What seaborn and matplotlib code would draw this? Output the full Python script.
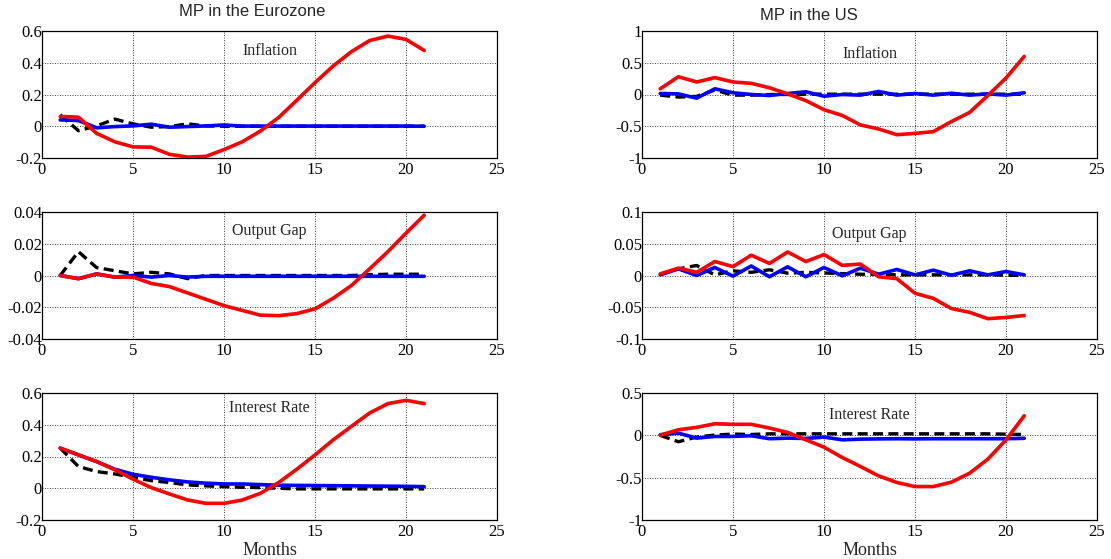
import numpy as np
import pandas as pd
import matplotlib
matplotlib.use("Agg")
import matplotlib.pyplot as plt
import seaborn as sns

months = list(range(1, 22))

# Eurozone - Inflation
ez_inf_red = [0.062, 0.057, -0.045, -0.098, -0.13, -0.132, -0.177, -0.194, -0.19, -0.147, -0.098,
              -0.03, 0.055, 0.164, 0.275, 0.38, 0.47, 0.54, 0.568, 0.547, 0.477]
ez_inf_blue = [0.04, 0.036, -0.01, -0.002, 0.002, 0.013, -0.006, -0.002, 0.002, 0.008, 0.001,
               0.001, 0.001, 0.001, 0.001, 0.001, 0.001, 0.001, 0.001, 0.001, 0.0]
ez_inf_black = [0.072, -0.028, 0.002, 0.045, 0.015, -0.006, -0.002, 0.015, 0.002, 0.0, 0.0,
                0.0, 0.0, 0.0, 0.0, 0.0, 0.0, 0.0, 0.0, 0.0, 0.0]

# US - Inflation
us_inf_red = [0.09, 0.28, 0.197, 0.266, 0.197, 0.176, 0.106, 0.01, -0.096, -0.24, -0.33,
              -0.479, -0.543, -0.633, -0.612, -0.585, -0.426, -0.282, -0.016, 0.26, 0.60]
us_inf_blue = [0.016, 0.01, -0.058, 0.09, 0.027, 0.0, -0.016, 0.016, 0.043, -0.027, 0.0,
               -0.01, 0.048, -0.01, 0.016, -0.01, 0.02, -0.01, 0.01, -0.01, 0.027]
us_inf_black = [-0.01, -0.04, -0.03, 0.07, -0.01, -0.01, 0.0, 0.0, 0.005, 0.005, 0.005,
                0.005, 0.005, 0.005, 0.005, 0.005, 0.005, 0.005, 0.005, 0.005, 0.005]

# Eurozone - Output gap
ez_gap_red = [0.0, -0.002, 0.001, -0.001, -0.001, -0.005, -0.007, -0.011, -0.015, -0.019, -0.022,
              -0.025, -0.0253, -0.024, -0.021, -0.0143, -0.0063, 0.0042, 0.015, 0.0267, 0.038]
ez_gap_blue = [0.0, -0.002, 0.001, -0.001, 0.0, -0.001, 0.0, -0.001, -0.0005, -0.0005, -0.0005,
               -0.0005, -0.0005, -0.0005, -0.0005, -0.0005, -0.0005, -0.0005, -0.0005, -0.0005, -0.0005]
ez_gap_black = [0.0, 0.015, 0.005, 0.003, 0.001, 0.002, 0.001, -0.002, 0.0, 0.0, 0.0,
                0.0, 0.0, 0.0, 0.0, 0.0, 0.0, 0.0005, 0.0008, 0.0008, 0.0008]

# US - Output gap
us_gap_red = [0.0026, 0.0116, 0.005, 0.022, 0.014, 0.032, 0.019, 0.037, 0.022, 0.033, 0.016,
              0.018, -0.002, -0.005, -0.028, -0.036, -0.052, -0.058, -0.068, -0.066, -0.063]
us_gap_blue = [0.001, 0.0105, 0.0, 0.0126, -0.001, 0.015, -0.002, 0.0137, -0.002, 0.0126, -0.0005,
               0.0116, 0.002, 0.0095, 0.001, 0.0084, 0.0005, 0.0074, 0.001, 0.0063, 0.001]
us_gap_black = [0.002, 0.0105, 0.0158, 0.001, 0.0074, 0.005, 0.009, 0.0037, 0.005, 0.004, 0.003,
                0.002, 0.002, 0.001, 0.001, 0.001, 0.001, 0.001, 0.001, 0.0005, 0.0]

# Eurozone - Interest rate
ez_int_red = [0.253, 0.21, 0.168, 0.116, 0.057, 0.004, -0.036, -0.074, -0.095, -0.095, -0.074,
              -0.032, 0.036, 0.12, 0.21, 0.305, 0.39, 0.474, 0.533, 0.554, 0.533]
ez_int_blue = [0.253, 0.21, 0.168, 0.12, 0.088, 0.069, 0.053, 0.04, 0.032, 0.027, 0.027,
               0.023, 0.019, 0.018, 0.017, 0.016, 0.015, 0.014, 0.013, 0.012, 0.01]
ez_int_black = [0.253, 0.137, 0.105, 0.09, 0.069, 0.048, 0.036, 0.021, 0.015, 0.01, 0.006,
                0.004, 0.0, -0.004, -0.004, -0.004, -0.004, -0.004, -0.004, -0.004, -0.004]

# US - Interest rate
us_int_red = [0.003, 0.066, 0.094, 0.137, 0.13, 0.13, 0.086, 0.034, -0.053, -0.14, -0.262,
              -0.368, -0.479, -0.557, -0.605, -0.605, -0.553, -0.447, -0.281, -0.053, 0.231]
us_int_blue = [0.007, 0.026, -0.033, -0.013, -0.013, -0.005, -0.04, -0.033, -0.037, -0.021, -0.053,
               -0.045, -0.042, -0.04, -0.042, -0.04, -0.04, -0.04, -0.04, -0.04, -0.035]
us_int_black = [0.0, -0.076, -0.02, 0.003, 0.015, 0.01, 0.018, 0.018, 0.018, 0.018, 0.018,
                0.018, 0.018, 0.018, 0.018, 0.018, 0.018, 0.018, 0.018, 0.014, 0.01]

panel_labels = ["Inflation", "Output Gap", "Interest Rate"]
column_titles = ["MP in the Eurozone", "MP in the US"]
xticks = [0, 5, 10, 15, 20, 25]
yticks_left = [[-0.2, 0, 0.2, 0.4, 0.6], [-0.04, -0.02, 0, 0.02, 0.04], [-0.2, 0, 0.2, 0.4, 0.6]]
ytick_labels_left = [["-0.2", "0", "0.2", "0.4", "0.6"], ["-0.04", "-0.02", "0", "0.02", "0.04"],
                     ["-0.2", "0", "0.2", "0.4", "0.6"]]
yticks_right = [[-1, -0.5, 0, 0.5, 1], [-0.1, -0.05, 0, 0.05, 0.1], [-1, -0.5, 0, 0.5]]
ytick_labels_right = [["-1", "-0.5", "0", "0.5", "1"], ["-0.1", "-0.05", "0", "0.05", "0.1"],
                      ["-1", "-0.5", "0", "0.5"]]

series = {
    (0, 0): (ez_inf_black, ez_inf_blue, ez_inf_red),
    (0, 1): (us_inf_black, us_inf_blue, us_inf_red),
    (1, 0): (ez_gap_black, ez_gap_blue, ez_gap_red),
    (1, 1): (us_gap_black, us_gap_blue, us_gap_red),
    (2, 0): (ez_int_black, ez_int_blue, ez_int_red),
    (2, 1): (us_int_black, us_int_blue, us_int_red),
}

sns.set_style("white")
plt.rcParams['font.family'] = ['Liberation Serif', 'DejaVu Serif']

fig = plt.figure(figsize=(11.11, 5.59), dpi=100)

W = 1111.0
H = 559.0
col_x = [(42, 497), (642, 1097)]
row_y = [(31, 158), (212, 339), (393, 520)]
label_y = [[0.84, 0.82], [0.85, 0.83], [0.88, 0.83]]

for r in range(3):
    for c in range(2):
        x0, x1 = col_x[c]
        y0, y1 = row_y[r]
        ax = fig.add_axes([x0 / W, 1 - y1 / H, (x1 - x0) / W, (y1 - y0) / H])
        blk, blu, red = series[(r, c)]
        df = pd.DataFrame({"Month": months, "black": blk, "blue": blu, "red": red})
        sns.lineplot(data=df, x="Month", y="black", ax=ax, color="black", lw=2.4,
                     linestyle=(0, (3.0, 1.6)), zorder=3)
        sns.lineplot(data=df, x="Month", y="blue", ax=ax, color="#0000ff", lw=2.6, zorder=4)
        sns.lineplot(data=df, x="Month", y="red", ax=ax, color="#ff0000", lw=2.6, zorder=5)
        ax.set_xlim(0, 25)
        if c == 0:
            yt, yl = yticks_left[r], ytick_labels_left[r]
        else:
            yt, yl = yticks_right[r], ytick_labels_right[r]
        ax.set_ylim(yt[0], yt[-1])
        ax.set_yticks(yt)
        ax.set_yticklabels(yl)
        ax.set_xticks(xticks)
        ax.set_xticklabels([str(v) for v in xticks])
        ax.tick_params(axis="both", direction="in", length=3, width=0.6, labelsize=12,
                       colors="black")
        ax.tick_params(axis="y", pad=0)
        ax.tick_params(axis="x", pad=3)
        ax.grid(True, color="black", linestyle=(0, (1, 2)), linewidth=0.6)
        for s in ax.spines.values():
            s.set_color("black")
            s.set_linewidth(0.9)
        ax.set_ylabel("")
        if r == 2:
            ax.set_xlabel("Months", fontsize=13, labelpad=1)
        else:
            ax.set_xlabel("")
        ax.text(0.5, label_y[r][c], panel_labels[r], transform=ax.transAxes, ha="center",
                va="center", fontsize=11.5, zorder=6)
        if r == 0:
            cx = 252 if c == 0 else 809
            cy = 12 if c == 0 else 15
            fig.text(cx / W, 1 - cy / H, column_titles[c], ha="center", va="center",
                     fontsize=12, family=["Liberation Sans", "DejaVu Sans"])

fig.savefig("out.png", dpi=100)
